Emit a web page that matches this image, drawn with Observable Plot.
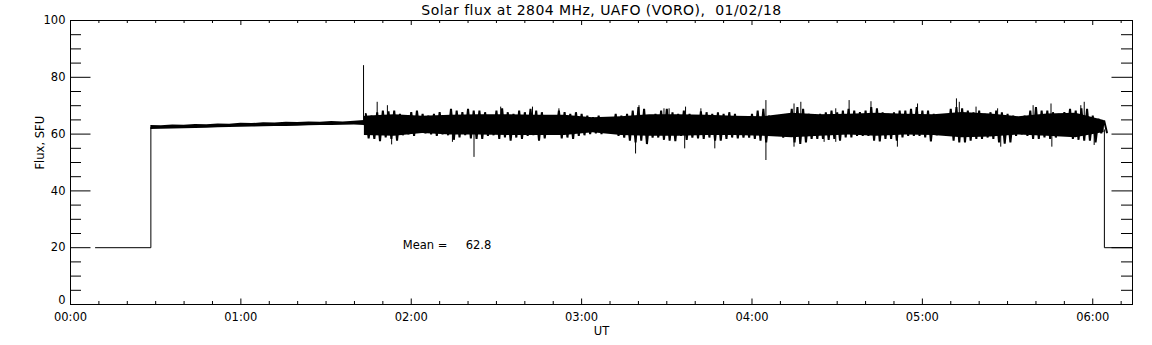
<!DOCTYPE html>
<html><head><meta charset="utf-8">
<script src="https://cdn.jsdelivr.net/npm/d3@7"></script>
<script src="https://cdn.jsdelivr.net/npm/@observablehq/plot@0.6"></script>
<style>html,body{margin:0;padding:0;background:#fff;} svg{display:block}</style>
</head><body><div id="chart"></div>
<script>
// ---- texts ----
const title = "Solar flux at 2804 MHz, UAFO (VORO),\u00a0\u00a001/02/18";
const xLabel = "UT";
const yLabel = "Flux, SFU";
const meanLabel = "Mean =\u00a0\u00a0\u00a0\u00a0\u00a062.8";
const meanAt = {t: 117, v: 21};

// ---- ticks (minutes since 00:00 UT, flux in SFU) ----
const xMajorTicks = [0, 60, 120, 180, 240, 300, 360];
const xMinorTicks = [10, 20, 30, 40, 50, 70, 80, 90, 100, 110, 130, 140, 150, 160, 170,
  190, 200, 210, 220, 230, 250, 260, 270, 280, 290, 310, 320, 330, 340, 350, 370];
const yMajorTicks = [0, 20, 40, 60, 80, 100];
const yLabelTicks = [20, 40, 60, 80, 100];
const yZeroTick = [0];
const yMinorTicks = [5, 10, 15, 25, 30, 35, 45, 50, 55, 65, 70, 75, 85, 90, 95];

// ---- calibration level before and after the solar record ----
const stepInT = [8.8, 28.3, 28.3];
const stepInV = [20, 20, 62.3];
const stepOutT = [364.1, 364.1, 374];
const stepOutV = [61.5, 20, 20];

// ---- quiet part of the record (upper / lower extent) ----
const quietT = [28.3, 32, 36, 40, 44, 48, 52, 56, 60, 64, 68, 72, 76, 80, 84, 88, 92, 96, 100, 103.5];
const quietHi = [63.0, 62.9, 63.2, 63.1, 63.4, 63.3, 63.6, 63.5, 63.8, 63.7, 64.0, 63.9, 64.2, 64.1, 64.3, 64.2, 64.4, 64.3, 64.5, 64.8];
const quietLo = [61.6, 61.7, 61.8, 61.9, 62.0, 62.1, 62.2, 62.3, 62.4, 62.5, 62.6, 62.7, 62.7, 62.8, 62.9, 63.0, 63.0, 63.1, 63.2, 63.0];

// ---- noisy part: solid core of the trace (every 10 min) ----
const coreT = [103.5, 114, 124, 134, 144, 154, 164, 174, 184, 194, 204, 214, 224, 234, 244, 254, 264, 274, 284, 294, 304, 314, 324, 334, 344, 354, 364];
const coreHi = [66.3, 66.8, 66.3, 66.6, 66.8, 66.8, 66.6, 66.6, 65.8, 66.1, 66.8, 66.8, 66.6, 66.3, 66.1, 67.3, 66.8, 67.0, 67.3, 67.0, 66.8, 67.6, 67.1, 66.1, 67.1, 67.3, 64.8];
const coreLo = [59.5, 59.2, 60.2, 59.7, 59.7, 59.5, 59.5, 59.5, 60.5, 59.5, 59.2, 59.2, 59.5, 59.5, 59.2, 58.7, 59.2, 59.7, 59.2, 59.7, 59.5, 58.7, 59.0, 59.7, 59.2, 58.7, 60.6];

// ---- noisy part: highs and lows of the trace (every 2 min) ----
const noiseT = [104, 106, 108, 110, 112, 114, 116, 118, 120, 122, 124, 126, 128, 130, 132, 134, 136, 138, 140,
  142, 144, 146, 148, 150, 152, 154, 156, 158, 160, 162, 164, 166, 168, 170, 172, 174, 176, 178,
  180, 182, 184, 186, 188, 190, 192, 194, 196, 198, 200, 202, 204, 206, 208, 210, 212, 214, 216,
  218, 220, 222, 224, 226, 228, 230, 232, 234, 236, 238, 240, 242, 244, 246, 248, 250, 252, 254,
  256, 258, 260, 262, 264, 266, 268, 270, 272, 274, 276, 278, 280, 282, 284, 286, 288, 290, 292,
  294, 296, 298, 300, 302, 304, 306, 308, 310, 312, 314, 316, 318, 320, 322, 324, 326, 328, 330,
  332, 334, 336, 338, 340, 342, 344, 346, 348, 350, 352, 354, 356, 358, 360, 362, 364];
const noiseHi = [
  67.1, 66.5, 67.7, 68.3, 68.0, 68.3, 67.1, 66.5, 67.7, 68.3, 67.1, 66.5, 67.1, 67.7, 66.5, 68.9, 68.3, 67.7, 68.9,
  68.3, 68.3, 67.7, 66.5, 68.3, 69.1, 67.7, 67.1, 68.3, 67.7, 68.9, 68.3, 67.7, 66.0, 66.5, 68.3, 67.7, 67.1, 67.7,
  67.1, 66.5, 66.0, 66.5, 65.4, 65.9, 67.1, 66.5, 67.1, 68.3, 69.5, 68.9, 66.5, 67.1, 68.3, 68.9, 67.7, 67.1, 68.3,
  67.1, 66.5, 68.0, 67.7, 67.1, 67.7, 67.1, 67.7, 67.1, 65.4, 65.1, 67.1, 68.3, 68.9, 66.5, 66.0, 66.5, 66.0, 68.9,
  69.5, 68.9, 67.1, 66.5, 67.1, 67.7, 68.3, 67.7, 68.3, 68.9, 68.3, 67.7, 68.3, 69.5, 69.1, 67.7, 67.1, 67.7, 68.3,
  68.3, 68.9, 69.5, 68.3, 68.3, 67.1, 66.5, 66.5, 68.9, 69.5, 69.1, 68.3, 67.7, 68.3, 67.1, 67.7, 68.3, 67.7, 67.1,
  66.5, 66.0, 66.5, 68.3, 69.5, 68.3, 68.3, 67.7, 67.1, 67.7, 68.9, 68.3, 69.1, 68.9, 66.5, 65.4, 64.8];
const noiseLo = [
  58.5, 58.3, 57.5, 58.8, 58.3, 57.7, 59.6, 59.9, 59.4, 60.6, 60.3, 59.9, 59.4, 59.9, 59.6, 58.0, 58.8, 59.6, 58.5,
  58.3, 58.3, 59.4, 59.6, 58.3, 58.8, 57.7, 58.8, 58.3, 59.4, 59.6, 57.7, 58.5, 60.6, 60.3, 58.5, 58.8, 58.3, 59.4,
  59.6, 60.0, 60.3, 60.0, 61.0, 60.6, 59.4, 58.8, 57.7, 57.1, 57.7, 56.5, 58.8, 58.8, 58.0, 57.7, 57.5, 59.4, 58.0,
  58.8, 58.5, 58.3, 58.8, 57.7, 57.7, 58.3, 58.8, 58.5, 58.8, 58.8, 58.3, 57.7, 57.1, 59.4, 59.4, 58.8, 59.4, 57.1,
  56.5, 57.1, 58.3, 58.3, 58.3, 58.0, 58.3, 57.7, 58.8, 58.8, 59.4, 59.4, 59.4, 57.7, 57.4, 58.3, 58.3, 57.7, 58.8,
  59.4, 59.4, 59.4, 58.8, 57.4, 59.6, 59.9, 59.4, 57.7, 57.1, 57.1, 57.7, 58.3, 58.3, 58.8, 58.3, 57.1, 56.6, 57.1,
  59.4, 59.9, 59.4, 58.3, 58.3, 58.8, 58.3, 58.8, 59.4, 59.4, 58.3, 58.0, 57.7, 57.7, 57.1, 60.3, 60.6];

// ---- isolated spikes of the trace ----
const spikeT = [103.2, 108.0, 111.6, 113.1, 134.5, 142.1, 151.5, 162.7, 172.0, 199.0, 200.2, 209.0, 210.8, 216.3, 216.6, 222.0, 226.9,
  244.9, 244.9, 254.8, 254.8, 257.2, 265.4, 269.5, 269.5, 274.2, 281.9, 291.2, 298.3, 312.0, 313.0, 318.9, 326.5, 327.6, 339.0, 345.3, 345.6, 355.8, 357.0, 360.5];
const spikeV = [84.1, 71.2, 70.0, 56.2, 57.1, 51.8, 69.5, 69.5, 68.9, 53.0, 70.0, 68.9, 68.9, 54.8, 69.5, 68.9, 54.8,
  71.8, 50.7, 70.6, 55.4, 71.2, 57.1, 68.9, 57.1, 71.8, 71.4, 55.4, 70.6, 72.4, 71.2, 69.5, 68.9, 55.4, 70.0, 70.6, 55.4, 70.0, 71.2, 56.0];

// ---- build tables ----
const quiet = quietT.map((t, i) => ({t, hi: quietHi[i], lo: quietLo[i]}));
const core = coreT.map((t, i) => ({t, hi: coreHi[i], lo: coreLo[i]}));
// trace through the read highs and lows, a high then the low half a bin later
const trace = noiseT.flatMap((t, i) => [{t, v: noiseHi[i]}, {t: t + 1, v: noiseLo[i]}]);
const stepIn = stepInT.map((t, i) => ({t, v: stepInV[i]}));
const stepOut = stepOutT.map((t, i) => ({t, v: stepOutV[i]}));
const spikes = spikeT.map((t, i) => ({t, v: spikeV[i], base: 63}));

const W = 1152, H = 345, mL = 70, mR = 20, mT = 20, mB = 41;
const fw = W - mL - mR, fh = H - mT - mB;
const fmt = m => String(Math.floor(m / 60)).padStart(2, "0") + ":" + String(m % 60).padStart(2, "0");
const font = "DejaVu Sans";

const chart = Plot.plot({
  width: W, height: H,
  marginLeft: mL, marginRight: mR, marginTop: mT, marginBottom: mB,
  style: {fontFamily: font, fontSize: "11.5px", background: "#fff", color: "#000"},
  x: {domain: [0, 374]},
  y: {domain: [0, 100]},
  marks: [
    Plot.areaY(quiet, {x: "t", y1: "lo", y2: "hi", fill: "black", curve: "linear"}),
    Plot.areaY(core, {x: "t", y1: "lo", y2: "hi", fill: "black", curve: "linear"}),
    Plot.line(trace, {x: "t", y: "v", stroke: "black", strokeWidth: 2, strokeLinejoin: "miter"}),
    Plot.ruleX(spikes, {x: "t", y1: "base", y2: "v", stroke: "black", strokeWidth: 1}),
    Plot.line(stepIn, {x: "t", y: "v", stroke: "black", strokeWidth: 1}),
    Plot.line(stepOut, {x: "t", y: "v", stroke: "black", strokeWidth: 1}),
    // frame
    Plot.frame({stroke: "black", strokeWidth: 1}),
    // inward ticks: left / right
    Plot.ruleY(yMajorTicks, {stroke: "black", insetRight: fw - 20.5}),
    Plot.ruleY(yMinorTicks, {stroke: "black", insetRight: fw - 11}),
    Plot.ruleY(yMajorTicks, {stroke: "black", insetLeft: fw - 20.5}),
    Plot.ruleY(yMinorTicks, {stroke: "black", insetLeft: fw - 11}),
    // inward ticks: bottom / top
    Plot.ruleX(xMajorTicks, {stroke: "black", insetTop: fh - 5.5}),
    Plot.ruleX(xMinorTicks, {stroke: "black", insetTop: fh - 3}),
    Plot.ruleX(xMajorTicks, {stroke: "black", insetBottom: fh - 5}),
    Plot.ruleX(xMinorTicks, {stroke: "black", insetBottom: fh - 3}),
    // tick labels
    Plot.axisX({ticks: xMajorTicks, tickSize: 0, tickPadding: 8, tickFormat: fmt, label: null, fontSize: 11.5}),
    Plot.axisY({ticks: yLabelTicks, tickSize: 0, tickPadding: 5, label: null, fontSize: 11.5}),
    Plot.axisY({ticks: yZeroTick, tickSize: 0, tickPadding: 5, label: null, fontSize: 11.5, dy: -4}),
    // texts
    Plot.text([title], {frameAnchor: "top", dy: -10, lineAnchor: "middle", fontSize: 14, fill: "black"}),
    Plot.text([xLabel], {frameAnchor: "bottom", dy: 27, lineAnchor: "middle", fontSize: 11.5, fill: "black"}),
    Plot.text([yLabel], {frameAnchor: "left", dx: -30, dy: 7, rotate: -90, lineAnchor: "middle", fontSize: 11.5, fill: "black"}),
    Plot.text([meanLabel], {x: () => meanAt.t, y: () => meanAt.v, textAnchor: "start", lineAnchor: "middle", fontSize: 11.5, fill: "black"})
  ]
});
chart.querySelectorAll("text").forEach(t => { if (t.textContent === title) t.setAttribute("letter-spacing", "0.45"); });
document.getElementById("chart").appendChild(chart);
</script>
</body></html>
